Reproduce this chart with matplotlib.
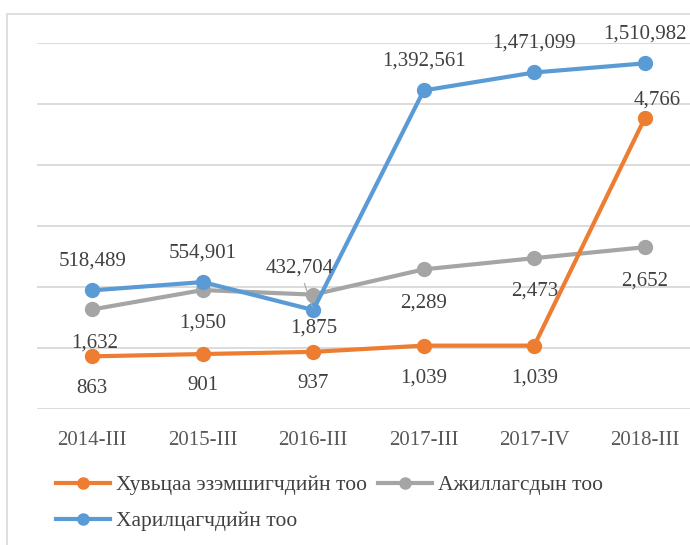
import matplotlib.pyplot as plt
from matplotlib.patches import Rectangle

plt.rcParams['font.family'] = ['Liberation Serif', 'DejaVu Serif']

# categories and series
periods = ["2014-III", "2015-III", "2016-III", "2017-III", "2017-IV", "2018-III"]
shareholders = [863, 901, 937, 1039, 1039, 4766]
employees = [1632, 1950, 1875, 2289, 2473, 2652]
customers = [518489, 554901, 432704, 1392561, 1471099, 1510982]

names = ["Хувьцаа эзэмшигчдийн тоо", "Ажиллагсдын тоо", "Харилцагчдийн тоо"]

c_orange = "#ED7D31"
c_grey = "#A5A5A5"
c_blue = "#5B9BD5"
c_text = "#404040"

fig = plt.figure(figsize=(6.9, 5.45), dpi=100)
# chart frame (cut at right and bottom like the original)
fig.patches.append(Rectangle((7 / 690, -0.1), 1.2, 1.1 - 14 / 545,
                             transform=fig.transFigure, fill=False,
                             edgecolor="#D9D9D9", linewidth=1.2))

ax = fig.add_axes([37 / 690, 136 / 545, 663 / 690, 366 / 545])
ax2 = ax.twinx()
x = list(range(len(periods)))

l1, = ax.plot(x, shareholders, color=c_orange, lw=3, marker="o", ms=10, zorder=3)
l2, = ax.plot(x, employees, color=c_grey, lw=3, marker="o", ms=10, zorder=2)
l3, = ax2.plot(x, customers, color=c_blue, lw=3, marker="o", ms=10, zorder=3)

ax.set_ylim(0, 6000)
ax2.set_ylim(0, 1600000)
ax.set_xlim(-0.5, 5.5)
ax.set_yticks(range(0, 6001, 1000))
ax.grid(axis="y", color="#D9D9D9", lw=1.3)
ax.set_axisbelow(True)
for a in (ax, ax2):
    for s in a.spines.values():
        s.set_visible(False)
    a.tick_params(left=False, right=False, bottom=False,
                  labelleft=False, labelright=False)
ax.set_xticks(x)
ax.set_xticklabels(periods, fontsize=15, color="#595959")
ax.tick_params(axis="x", pad=12)

fs = 15
# orange labels below, last one above
for i, v in enumerate(shareholders):
    if i == 5:
        ax.annotate(f"{v:,}", (i, v), xytext=(9, 13), textcoords="offset points",
                    ha="center", va="center", fontsize=fs, color=c_text)
    else:
        ax.annotate(f"{v:,}", (i, v), xytext=(0, -23), textcoords="offset points",
                    ha="center", va="center", fontsize=fs, color=c_text)
# grey labels below
for i, v in enumerate(employees):
    ax.annotate(f"{v:,}", (i, v), xytext=(2 if i == 0 else 0, -24),
                textcoords="offset points",
                ha="center", va="center", fontsize=fs, color=c_text)
# blue labels above
for i, v in enumerate(customers):
    if i == 2:
        ax2.annotate(f"{v:,}", (i, v), xytext=(-10, 30), textcoords="offset points",
                     ha="center", va="center", fontsize=fs, color=c_text,
                     arrowprops=dict(arrowstyle="-", color="#A6A6A6", lw=0.8,
                                     shrinkA=2, shrinkB=2))
    else:
        ax2.annotate(f"{v:,}", (i, v), xytext=(0, 21), textcoords="offset points",
                     ha="center", va="center", fontsize=fs, color=c_text)

fig.legend([l1, l3, l2], [names[0], names[2], names[1]], ncol=2,
           loc="upper left", bbox_to_anchor=(56 / 690, 1 - 475 / 545),
           frameon=False, fontsize=15.5, handlelength=2.5, handletextpad=0.3,
           columnspacing=0.5, labelspacing=0.75, labelcolor=c_text,
           markerscale=0.8, borderaxespad=0, borderpad=0)

fig.savefig("out.png", dpi=100)
